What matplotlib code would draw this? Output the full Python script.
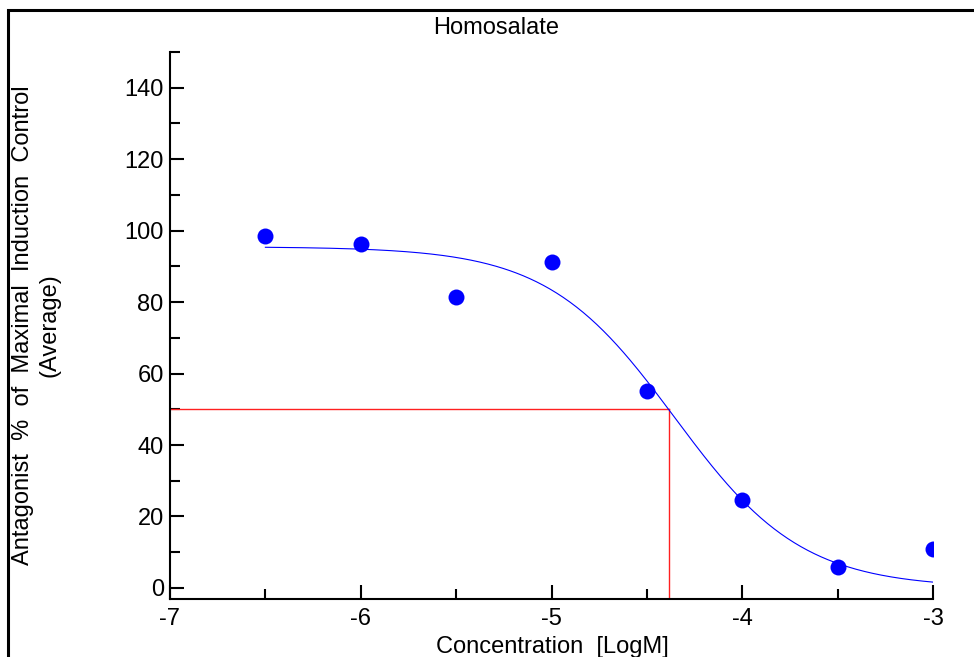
import numpy as np
import matplotlib
matplotlib.use("Agg")
import matplotlib.pyplot as plt
from matplotlib.patches import Rectangle
from matplotlib.ticker import MultipleLocator

plt.rcParams["font.family"] = ["Liberation Sans", "DejaVu Sans"]

# Measured responses (average % of maximal induction control)
log_conc = [-6.5, -6.0, -5.5, -5.0, -4.5, -4.0, -3.5, -3.0]
response = [98.6, 96.3, 81.5, 91.3, 55.2, 24.6, 5.9, 10.9]

# Four-parameter logistic fit
fit_top = 95.5
fit_bottom = 0.0
fit_log_ic50 = -4.355
fit_hill = 1.30

title = "Homosalate"
xlabel = "Concentration  [LogM]"
ylabel = "Antagonist  %  of  Maximal  Induction  Control\n(Average)"
x_ticks = [-7, -6, -5, -4, -3]
y_ticks = [0, 20, 40, 60, 80, 100, 120, 140]


def logistic(x):
    return fit_bottom + (fit_top - fit_bottom) / (1 + 10 ** ((x - fit_log_ic50) * fit_hill))


W, H = 974, 657
fig = plt.figure(figsize=(W / 100, H / 100), dpi=100)
ax = fig.add_axes([170 / W, 1 - 599 / H, (933 - 170) / W, (599 - 52) / H])

# Fitted curve
xs = np.linspace(min(log_conc), max(log_conc), 400)
ax.plot(xs, logistic(xs), color="#0000ff", lw=0.8, zorder=3)

# Half-maximal (50 %) crossing of the curve
x50 = np.interp(50, logistic(xs)[::-1], xs[::-1])
ax.plot([-7, x50], [50, 50], color="#ff2020", lw=1.0, zorder=2)
ax.plot([x50, x50], [50, -3.1], color="#ff2020", lw=1.0, zorder=2)

# Data points
ax.plot(log_conc, response, "o", color="#0000ff", ms=11.5, mec="none", zorder=4)

ax.set_xlim(-7, -3)
ax.set_ylim(-3.1, 150)
ax.set_xticks(x_ticks)
ax.set_xticklabels([str(t) for t in x_ticks])
ax.xaxis.set_minor_locator(MultipleLocator(0.5))
ax.set_yticks(y_ticks)
ax.yaxis.set_minor_locator(MultipleLocator(10))

for s in ["top", "right"]:
    ax.spines[s].set_visible(False)
for s in ["left", "bottom"]:
    ax.spines[s].set_linewidth(1.5)

ax.tick_params(axis="both", which="major", direction="in", length=10, width=1.5,
               labelsize=17)
ax.tick_params(axis="both", which="minor", direction="in", length=7.5, width=1.5)
ax.tick_params(axis="y", which="major", pad=4.5)
ax.tick_params(axis="x", which="major", pad=6.5)

fig.text(496 / W, 1 - 28 / H, title, ha="center", va="center", fontsize=17)
fig.text(552 / W, 1 - 647 / H, xlabel, ha="center", va="center", fontsize=17)
fig.text(36 / W, 1 - 325 / H, ylabel, ha="center", va="center", rotation=90,
         multialignment="center", fontsize=17, linespacing=1.25)

# Outer frame (runs past the right and bottom edges)
fig.patches.append(Rectangle((8 / W, -0.1), 2.0, 1 - 10 / H + 0.1, transform=fig.transFigure,
                             fill=False, edgecolor="black", lw=2.2, zorder=10))

fig.savefig("out.png", dpi=100)
